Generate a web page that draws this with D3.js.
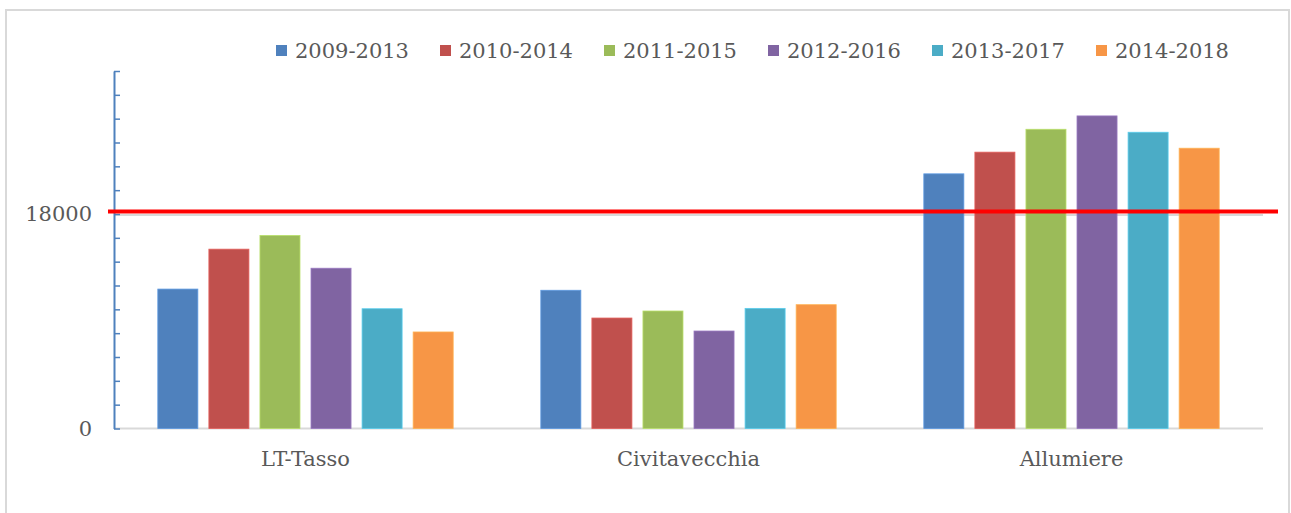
<!DOCTYPE html>
<html>
<head>
<meta charset="utf-8">
<script src="https://cdn.jsdelivr.net/npm/d3@7"></script>
<style>
  body { margin: 0; background: #fff; }
  text { font-family: "DejaVu Serif", serif; fill: #595959; }
</style>
</head>
<body>
<div id="chart"></div>
<script>
const width = 1291;
const height = 513;
var margin = {top: 71, bottom: 84, left: 114, right: 28};

// ******** DATA ********
var places = ["LT-Tasso", "Civitavecchia", "Allumiere"];
var periods = ["2009-2013", "2010-2014", "2011-2015", "2012-2016", "2013-2017", "2014-2018"];
var ltTasso = [11700, 15050, 16200, 13450, 10050, 8100];
var civitavecchia = [11600, 9270, 9860, 8180, 10080, 10390];
var allumiere = [21370, 23190, 25110, 26230, 24860, 23520];
var threshold = 18000;
var yLabels = [0, 18000];
const colors = ["#4f81bd", "#c0504d", "#9bbb59", "#8064a2", "#4bacc6", "#f79646"];

var seriesByPlace = [ltTasso, civitavecchia, allumiere];

// ********* SVG *********
var svg = d3.select("#chart").append("svg")
  .attr("width", width)
  .attr("height", height);

// outer frame
svg.append("rect")
  .attr("x", 6).attr("y", 10)
  .attr("width", 1283).attr("height", 520)
  .attr("fill", "#fff")
  .attr("stroke", "#d9d9d9")
  .attr("stroke-width", 2);

// ******** SCALES ********
var y = d3.scaleLinear()
  .domain([0, 30000])
  .range([height - margin.bottom - 0.5, margin.top]);

var x0 = d3.scaleBand()
  .domain(places)
  .range([margin.left, width - margin.right])
  .paddingInner(0.2)
  .paddingOuter(0.1);

var x1 = d3.scaleBand()
  .domain(periods)
  .range([0, x0.bandwidth()])
  .paddingInner(0.216)
  .paddingOuter(0.108);

// baseline
svg.append("line")
  .attr("x1", margin.left).attr("x2", width - margin.right)
  .attr("y1", y(0)).attr("y2", y(0))
  .attr("stroke", "#d9d9d9").attr("stroke-width", 2);

// gridline under the threshold
svg.append("line")
  .attr("x1", margin.left).attr("x2", width - margin.right)
  .attr("y1", y(threshold) + 1).attr("y2", y(threshold) + 1)
  .attr("stroke", "#d9d9d9").attr("stroke-width", 2);

// ******** BARS ********
var groups = svg.append("g").selectAll("g")
  .data(places)
  .enter().append("g")
  .attr("transform", function(d) { return `translate(${x0(d)},0)`; });

groups.selectAll("rect")
  .data(function(d, i) {
    return periods.map(function(p, j) {
      return {period: p, value: seriesByPlace[i][j], color: colors[j]};
    });
  })
  .enter().append("rect")
  .attr("x", function(d) { return x1(d.period); })
  .attr("y", function(d) { return y(d.value); })
  .attr("width", x1.bandwidth())
  .attr("height", function(d) { return y(0) - y(d.value); })
  .attr("fill", function(d) { return d.color; })
  .attr("stroke", function(d) { return d3.rgb(d.color).brighter(0.5); })
  .attr("stroke-width", 0.8);

// ******** Y AXIS ********
var yAxis = d3.axisRight(y)
  .tickValues(d3.range(0, 30001, 2000))
  .tickSizeInner(6)
  .tickSizeOuter(0)
  .tickFormat("");

var yg = svg.append("g")
  .attr("transform", `translate(${margin.left},0)`)
  .call(yAxis);
yg.select(".domain").attr("stroke", "#4f81bd").attr("stroke-width", 2);
yg.selectAll(".tick line").attr("stroke", "#4f81bd").attr("stroke-width", 1.5);

var yLab = svg.append("g")
  .attr("transform", `translate(${margin.left},0)`)
  .call(d3.axisLeft(y).tickValues(yLabels).tickSize(0).tickPadding(22).tickFormat(d3.format("d")));
yLab.select(".domain").remove();
yLab.selectAll("text")
  .style("font-family", "DejaVu Serif")
  .style("font-size", "21px")
  .attr("fill", "#595959");

// ******** THRESHOLD LINE ********
svg.append("line")
  .attr("x1", margin.left - 6).attr("x2", width - 13)
  .attr("y1", y(threshold) - 2.5).attr("y2", y(threshold) - 2.5)
  .attr("stroke", "#ff0000").attr("stroke-width", 4);

// ******** X LABELS ********
var xg = svg.append("g")
  .attr("transform", `translate(0,${y(0)})`)
  .call(d3.axisBottom(x0).tickSize(0).tickPadding(23));
xg.select(".domain").remove();
xg.selectAll("text")
  .style("font-family", "DejaVu Serif")
  .style("font-size", "21px")
  .attr("fill", "#595959");

// ******** LEGEND ********
var legend_x = d3.scalePoint()
  .domain(periods)
  .range([276, 1096]);

var legend = svg.append("g").selectAll("g")
  .data(periods)
  .enter().append("g")
  .attr("transform", function(d) { return `translate(${legend_x(d)},45)`; });

legend.append("rect")
  .attr("width", 11).attr("height", 11)
  .attr("fill", function(d, i) { return colors[i]; });

legend.append("text")
  .attr("x", 19)
  .attr("y", 5.5)
  .attr("dy", "0.36em")
  .style("font-size", "21px")
  .text(function(d) { return d; });
</script>
</body>
</html>
